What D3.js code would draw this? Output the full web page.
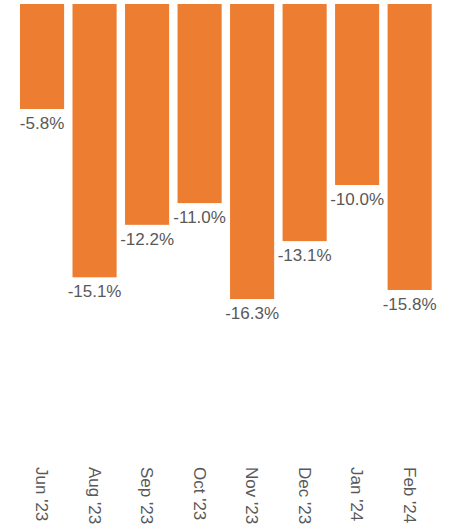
<!DOCTYPE html>
<html>
<head>
<meta charset="utf-8">
<script src="https://cdn.jsdelivr.net/npm/d3@7"></script>
<style>
  body { margin: 0; background: #fff; }
  text { font-family: "Liberation Sans", Arial, sans-serif; }
</style>
</head>
<body>
<div id="chart"></div>
<script>
// month labels and the change values (percent)
const months = ["Jun '23", "Aug '23", "Sep '23", "Oct '23", "Nov '23", "Dec '23", "Jan '24", "Feb '24"];
const changes = [-5.8, -15.1, -12.2, -11.0, -16.3, -13.1, -10.0, -15.8];

const width = 460;
const height = 530;

const svg = d3.select("#chart")
    .append("svg")
    .attr("width", width)
    .attr("height", height);

// band scale for the months
const xScale = d3.scaleBand()
    .domain(months)
    .range([15.8, 435.9])
    .paddingInner(0.16)
    .paddingOuter(0.08);

// bars hang down from zero at the top
const yScale = d3.scaleLinear()
    .domain([0, -20])
    .range([4, 366]);

const data = months.map((m, i) => ({month: m, value: changes[i]}));

svg.selectAll("rect.bar")
    .data(data)
    .enter()
    .append("rect")
    .attr("class", "bar")
    .attr("x", d => xScale(d.month))
    .attr("y", yScale(0))
    .attr("width", xScale.bandwidth())
    .attr("height", d => yScale(d.value) - yScale(0))
    .attr("fill", "#ED7D31");

// value labels under each bar
svg.selectAll("text.value")
    .data(data)
    .enter()
    .append("text")
    .attr("class", "value")
    .attr("x", d => xScale(d.month) + xScale.bandwidth() / 2)
    .attr("y", d => yScale(d.value) + 20)
    .attr("text-anchor", "middle")
    .style("font-size", "17px")
    .style("fill", "#595959")
    .text(d => d.value.toFixed(1) + "%");

// rotated month labels at the bottom
svg.selectAll("text.month")
    .data(data)
    .enter()
    .append("text")
    .attr("class", "month")
    .attr("transform", d => `translate(${xScale(d.month) + xScale.bandwidth() / 2}, 467) rotate(90)`)
    .attr("dy", "0.35em")
    .attr("text-anchor", "start")
    .style("font-size", "17px")
    .style("fill", "#595959")
    .text(d => d.month);
</script>
</body>
</html>
